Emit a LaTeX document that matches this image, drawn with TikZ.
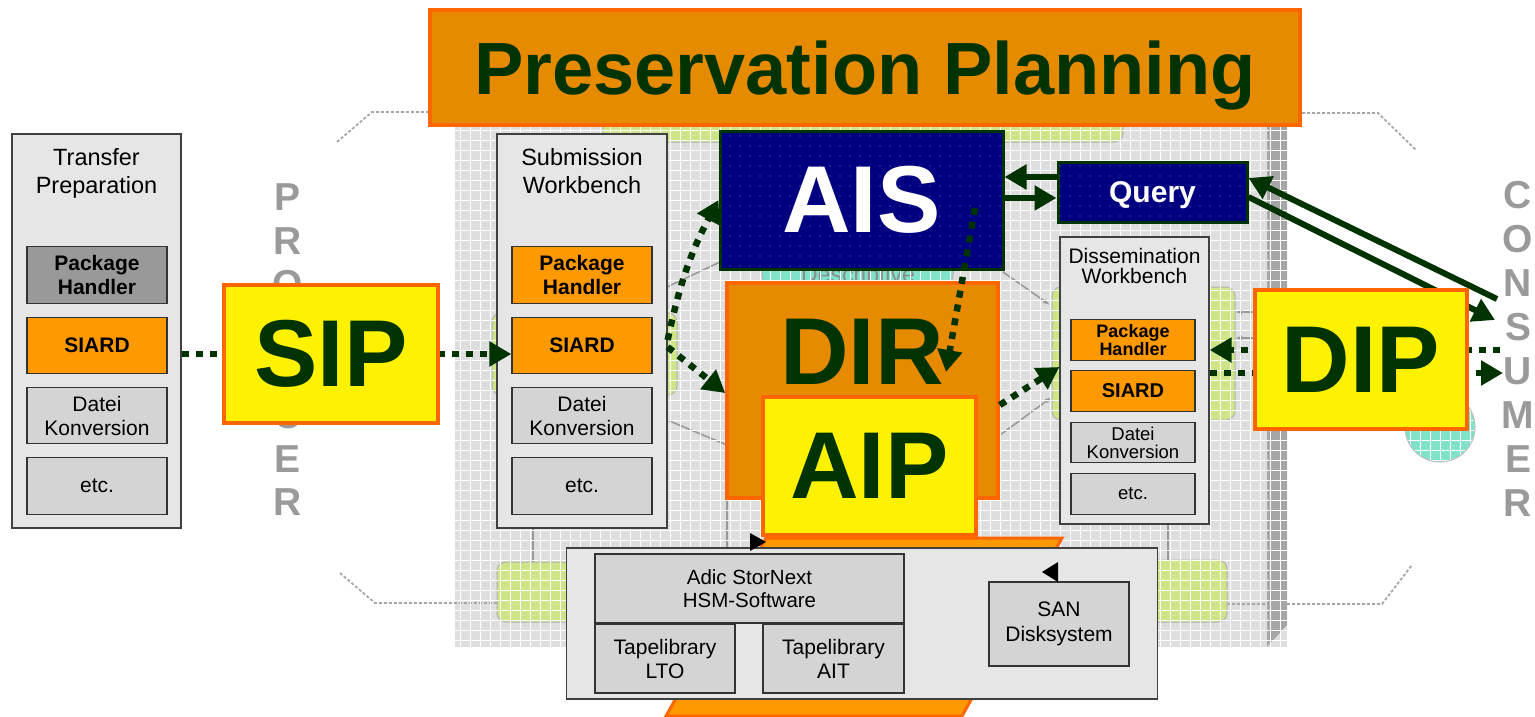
\documentclass[tikz,border=0pt]{standalone}
\usepackage{fontspec}
\setmainfont{Liberation Sans}
\usetikzlibrary{arrows.meta, positioning, calc, patterns.meta}

\definecolor{dkgreen}{HTML}{003300}
\definecolor{plorange}{HTML}{E68A00}
\definecolor{rimorange}{HTML}{FF6600}
\definecolor{boxorange}{HTML}{FF9900}
\definecolor{aisblue}{HTML}{000080}
\definecolor{dotblue}{HTML}{6A78C8}
\definecolor{wbgray}{HTML}{E6E6E6}
\definecolor{cellgray}{HTML}{D4D4D4}
\definecolor{phgray}{HTML}{999999}
\definecolor{gridgray}{HTML}{DEDEDE}
\definecolor{blobgreen}{HTML}{CDE586}
\definecolor{blobteal}{HTML}{80E2C8}
\definecolor{ghost}{HTML}{9A9A9A}

\tikzset{
  wb/.style={draw=black!75, fill=wbgray, line width=1.3pt, inner sep=0pt},
  wbtitle/.style={align=center, inner sep=0pt, font=\fontsize{23.5}{28}\selectfont},
  cell/.style={draw=black!80, fill=cellgray, line width=1.3pt, inner sep=0pt, align=center,
    minimum width=140pt, minimum height=56.5pt, font=\fontsize{21}{24}\selectfont},
  hotcell/.style={cell, fill=boxorange, font=\fontsize{21}{24}\selectfont\bfseries},
  smallcell/.style={cell, minimum width=124pt, minimum height=40.5pt, font=\fontsize{18.5}{18}\selectfont},
  bigword/.style={text=dkgreen, inner sep=0pt, font=\fontsize{95}{95}\selectfont\bfseries},
  pkgbox/.style={bigword, draw=rimorange, line width=3.5pt, fill=yellow},
  aisbox/.style={draw=dkgreen, line width=3pt, fill=aisblue, inner sep=0pt, text=white,
    postaction={pattern color=dotblue, pattern={Dots[distance=10pt,radius=0.7pt]}}},
  dotline/.style={draw=dkgreen, line width=6.5pt, dash pattern=on 7pt off 7pt},
  dotarr/.style={dotline, -{Triangle[length=22pt,width=24pt]}},
  solarr/.style={draw=dkgreen, line width=6pt, -{Triangle[length=22pt,width=24pt]}},
  ghostwire/.style={draw=black!40, line width=1.6pt},
  ghostrim/.style={draw=black!35, line width=1.8pt, densely dashed},
  blob/.style={fill=blobgreen, draw=black!30, line width=1pt, rounded corners=9pt},
  ghostletter/.style={text=ghost, inner sep=0pt, font=\fontsize{39}{39}\selectfont\bfseries},
}

\begin{document}
\begin{tikzpicture}[x=1pt, y=-1pt]
      \useasboundingbox (0,0) rectangle (1535,716);

      \fill[gridgray] (455,112) rectangle (1287,647);
      \fill[black!35] (1267,112) -- (1287,112) -- (1287,625) -- (1267,647) -- cycle;

      \draw[ghostrim] (337,142) -- (372,112) -- (455,112);
      \draw[ghostrim] (1287,113) -- (1378,113) -- (1416,150);
      \draw[ghostrim] (340,573) -- (375,603) -- (497,603);
      \draw[ghostrim] (1227,604) -- (1382,604) -- (1412,565);

      \draw[ghostwire] (667,287) -- (720,262);
      \draw[ghostwire] (667,420) -- (727,445);
      \draw[ghostwire, -{Latex[length=7pt]}] (1003,272) -- (1050,305);
      \draw[ghostwire, -{Latex[length=7pt]}] (1000,435) -- (1052,397);
      \draw[ghostwire, -{Latex[length=7pt]}] (1255,312) -- (1235,312);
      \draw[ghostwire, -{Latex[length=7pt]}] (1255,338) -- (1235,338);
      \draw[ghostwire] (533,528) -- (533,562);
      \draw[ghostwire] (727,498) -- (727,548);
      \draw[ghostwire] (1168,524) -- (1168,560);

      \draw[blob] (603,100) rectangle (1123,142);
      \draw[blob] (492,313) rectangle (677,395);
      \draw[blob] (1052,287) rectangle (1235,420);
      \draw[blob] (497,562) rectangle (640,622);
      \draw[blob] (1100,560) rectangle (1227,622);
      \draw[fill=blobteal, draw=black!30, line width=1pt, rounded corners=11pt] (762,256) rectangle (953,286);
      \node[anchor=base, inner sep=0pt, text=black!45, font=\fontsize{23}{23}\selectfont] (desc) at (858,282) {Descriptive};

      \draw[white, line width=0.9pt, step=10pt] (455,647) grid (1287,112);

      \fill[blobteal] (1440,427) circle (35pt);
      \begin{scope}
        \clip (1440,427) circle (35pt);
        \draw[white, line width=0.9pt, step=10pt] (1400,465) grid (1480,390);
      \end{scope}
      \draw[black!25, line width=1pt] (1440,427) circle (35pt);

      \foreach \ltr [count=\i] in {P,R,O,D,U,C,E,R}
        \node[ghostletter] (prod-\i) at (288,{197+(\i-1)*43.6}) {\ltr};
      \foreach \ltr [count=\i] in {C,O,N,S,U,M,E,R}
        \node[ghostletter] (cons-\i) at (1518,{195+(\i-1)*44}) {\ltr};

      \fill[boxorange, draw=rimorange, line width=3pt] (766,538) -- (1062,538) -- (962,716) -- (666,716) -- cycle;

      \node[wb, minimum width=169pt, minimum height=394pt] (tp) at (96.5,331) {};
      \node[wbtitle] (tp-title) at (96.5,173) {Transfer\\Preparation};
      \node[hotcell, fill=phgray] (tp-pkg) at (97,275) {Package\\Handler};
      \node[hotcell] (tp-siard) at (97,345.5) {SIARD};
      \node[cell] (tp-datei) at (97,415.5) {Datei\\Konversion};
      \node[cell] (tp-etc) at (97,486) {etc.};

      \node[wb, minimum width=170pt, minimum height=394pt] (sw) at (582,331) {};
      \node[wbtitle] (sw-title) at (582,171) {Submission\\Workbench};
      \node[hotcell] (sw-pkg) at (582,275) {Package\\Handler};
      \node[hotcell] (sw-siard) at (582,345.5) {SIARD};
      \node[cell] (sw-datei) at (582,415.5) {Datei\\Konversion};
      \node[cell] (sw-etc) at (582,486) {etc.};

      \node[wb, minimum width=149pt, minimum height=287pt] (dw) at (1134.5,380.5) {};
      \node[wbtitle, font=\fontsize{21}{19.5}\selectfont] (dw-title) at (1134.5,266) {Dissemination\\Workbench};
      \node[smallcell, fill=boxorange, font=\fontsize{18}{17.5}\selectfont\bfseries] (dw-pkg) at (1133,340) {Package\\Handler};
      \node[smallcell, fill=boxorange, font=\fontsize{20}{20}\selectfont\bfseries] (dw-siard) at (1133,391) {SIARD};
      \node[smallcell] (dw-datei) at (1133,442.5) {Datei\\Konversion};
      \node[smallcell] (dw-etc) at (1133,494) {etc.};

      \node[aisbox, minimum width=283pt, minimum height=138pt, font=\fontsize{95}{95}\selectfont\bfseries] (ais) at (861.5,200) {AIS};
      \node[aisbox, minimum width=189pt, minimum height=60pt, text depth=0pt, font=\fontsize{30}{30}\selectfont\bfseries] (query) at (1152.5,192) {Query};
      \node[pkgbox, fill=plorange, minimum width=271pt, minimum height=215pt] (dir) at (862.5,390.5) {};
      \node[bigword] (dir-label) at (862,352) {DIR};
      \node[pkgbox, minimum width=213pt, minimum height=138pt] (aip) at (869.5,466) {AIP};

      \coordinate (ais-out) at (975,208);
      \coordinate (dir-in) at (946,372);
      \coordinate (cons-a) at (1500,350);
      \coordinate (cons-b) at (1503,373);
      \coordinate (cons-c) at (1497,299);
      \coordinate (cons-d) at (1495,320);

      \draw[dotline] (tp.east |- 0,354) -- (224,354);
      \draw[dotarr] (438,354) -- (sw-siard.west |- 0,354);
      \draw[dotarr] (sw.east |- 0,340) to[bend left=8] (ais.west);
      \draw[dotarr] (sw.east |- 0,347) -- (dir.west |- 0,393);
      \draw[dotarr] (ais-out) -- (dir-in);
      \draw[dotarr] (dir.east |- 0,405) -- (dw.west |- 0,367);
      \draw[dotarr] (cons-a) -- (dw.east |- cons-a);
      \draw[dotarr] (dw.east |- cons-b) -- (cons-b);

      \draw[solarr] (query.west |- 0,177) -- (ais.east |- 0,177);
      \draw[solarr] (ais.east |- 0,198) -- (query.west |- 0,198);
      \draw[solarr] (cons-c) -- (query.east |- 0,178);
      \draw[solarr] (query.east |- 0,197) -- (cons-d);

      \node[pkgbox, minimum width=214pt, minimum height=138pt] (sip) at (331,354) {SIP};
      \node[pkgbox, minimum width=212pt, minimum height=139pt] (dip) at (1361,359.5) {DIP};

      \node[draw=rimorange, line width=3.5pt, fill=plorange, inner sep=0pt, minimum width=870pt, minimum height=115pt,
        text depth=0pt, text=dkgreen, font=\fontsize{74}{74}\selectfont\bfseries] (pp) at (865,67.5) {Preservation Planning};

      \node[wb, minimum width=591pt, minimum height=151pt] (store) at (862,623.5) {};
      \node[cell, font=\fontsize{20.5}{23}\selectfont, minimum width=309pt, minimum height=69pt] (hsm) at (749.5,588.5) {Adic StorNext\\HSM-Software};
      \node[cell, font=\fontsize{21}{24}\selectfont, minimum height=69pt] (lto) at (665,658.5) {Tapelibrary\\LTO};
      \node[cell, font=\fontsize{21}{24}\selectfont, minimum width=141pt, minimum height=69pt] (ait) at (833.5,658.5) {Tapelibrary\\AIT};
      \node[cell, font=\fontsize{21}{25}\selectfont, minimum height=84pt] (san) at (1059,624) {SAN\\Disksystem};
      \fill[black] (750,533) -- (750,551) -- (766,542) -- cycle;
      \fill[black] (1058,562) -- (1058,582) -- (1042,572) -- cycle;
\end{tikzpicture}
\end{document}
